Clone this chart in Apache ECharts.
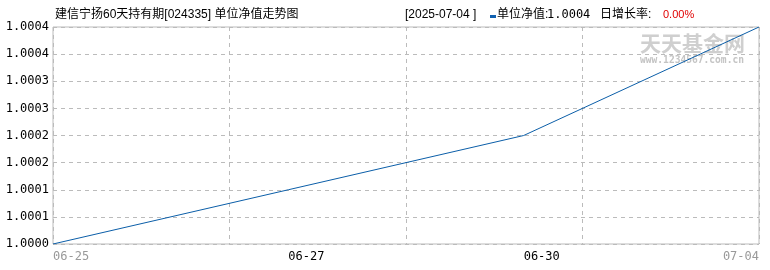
<!DOCTYPE html>
<html><head><meta charset="utf-8">
<script src="https://cdn.jsdelivr.net/npm/echarts@6/dist/echarts.min.js"></script>
<style>html,body{margin:0;padding:0;background:#fff}#c{width:770px;height:270px}</style>
</head><body><div id="c"></div>
<script>
const categories = ['06-25', '06-27', '06-30', '07-04'];
const navValues = [1.0000, 1.0001, 1.0002, 1.0004];
const yTickLabels = ['1.0000','1.0001','1.0001','1.0002','1.0002','1.0003','1.0003','1.0004','1.0004'];
const titleText = '建信宁扬60天持有期[024335] 单位净值走势图';
const latestDate = '2025-07-04';
const latestNav = '1.0004';
const dailyGrowth = '0.00%';

const FONT = '"DejaVu Sans Mono","Noto Sans CJK SC",monospace';
const HFONT = '"Liberation Sans","Noto Sans CJK SC",sans-serif';
const chart = echarts.init(document.getElementById('c'), null, {renderer: 'canvas'});
chart.setOption({
  animation: false,
  backgroundColor: '#fff',
  grid: {left: 53, right: 11, top: 27, bottom: 26, show: true, borderColor: '#bbb', borderWidth: 1},
  graphic: [
    {type: 'text', left: 55, top: 9, style: {text: titleText, font: '12px ' + HFONT, fill: '#000'}},
    {type: 'text', left: 405, top: 9, style: {text: '[' + latestDate + ' ]', font: '12px ' + HFONT, fill: '#000'}},
    {type: 'rect', shape: {x: 490, y: 15, width: 6, height: 3}, style: {fill: '#1060b0'}},
    {type: 'text', left: 497, top: 9, style: {text: '单位净值:', font: '12px ' + HFONT, fill: '#000'}},
    {type: 'text', left: 547, top: 9, style: {text: latestNav, font: '12px ' + FONT, fill: '#000'}},
    {type: 'text', left: 600, top: 9, style: {text: '日增长率:', font: '12px ' + HFONT, fill: '#000'}},
    {type: 'text', left: 663, top: 9, style: {text: dailyGrowth, font: '11px ' + HFONT, fill: '#e00000'}},
    {type: 'text', left: 640, top: 33, z: -1, style: {text: '天天基金网', font: 'bold 21px "Noto Sans CJK SC"', fill: '#cfcfcf'}},
    {type: 'text', left: 640, top: 55, z: -1, style: {text: 'www.1234567.com.cn', font: 'bold 9.6px "DejaVu Sans Mono"', fill: '#c4c4c4'}}
  ],
  xAxis: [{
    type: 'category', data: categories, boundaryGap: false,
    axisLine: {show: false}, axisTick: {show: false}, splitLine: {show: false},
    axisLabel: {
      interval: 0, align: 'left', margin: 7, fontFamily: FONT, fontSize: 12,
      alignMaxLabel: 'right',
      color: (v, i) => (i === 0 || i === categories.length - 1) ? '#999' : '#000'
    }
  }, {
    type: 'value', min: 0, max: 4, interval: 1, show: true, position: 'bottom',
    axisLine: {show: false}, axisTick: {show: false}, axisLabel: {show: false},
    splitLine: {show: true, lineStyle: {color: '#bbb', type: [4, 4], width: 1}}
  }],
  yAxis: {
    type: 'value', min: 1.0000, max: 1.0004, interval: 0.00005,
    axisLine: {show: false}, axisTick: {show: false},
    axisLabel: {fontFamily: FONT, fontSize: 12, color: '#000', margin: 4,
      formatter: (v, i) => yTickLabels[i]},
    splitLine: {show: true, lineStyle: {color: '#bbb', type: [4, 4], width: 1}}
  },
  series: [{
    type: 'line', data: navValues, xAxisIndex: 0, symbol: 'none',
    lineStyle: {color: '#0b5ea8', width: 1}
  }]
});
</script></body></html>
